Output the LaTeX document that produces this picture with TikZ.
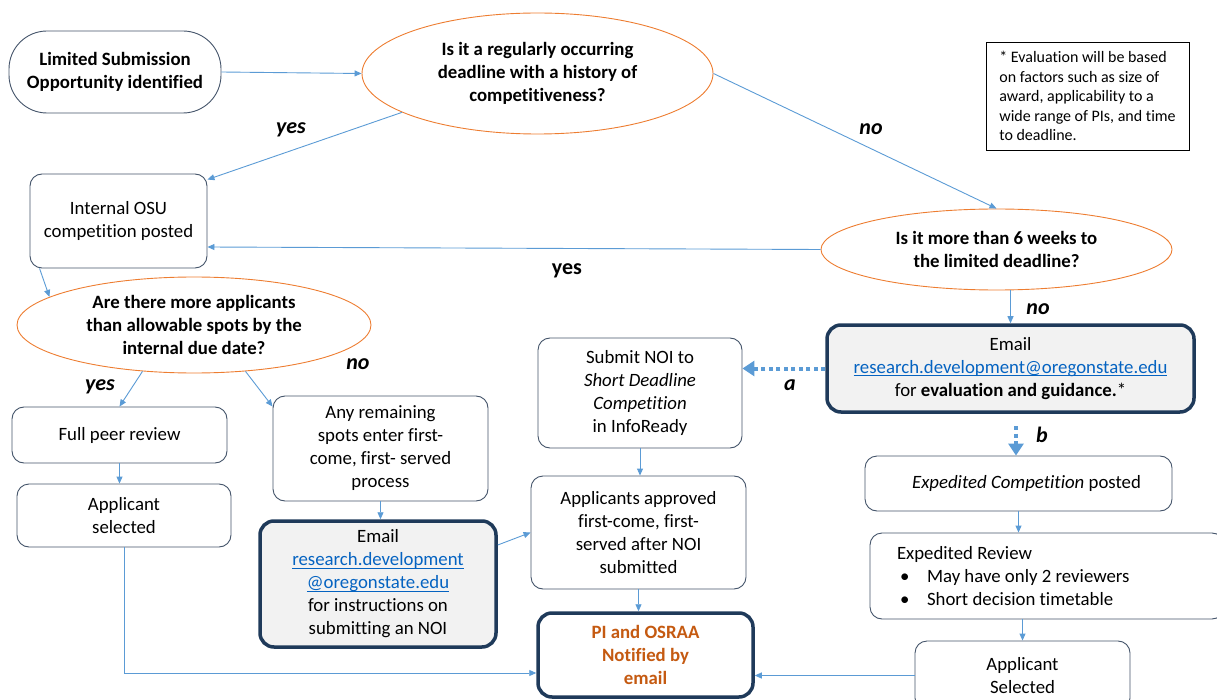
\documentclass[tikz,border=0pt]{standalone}
\usepackage{fontspec}
\setmainfont{Carlito}[Ligatures=NoCommon]
\usetikzlibrary{shapes.geometric,arrows.meta}
\definecolor{lineblue}{HTML}{5B9BD5}
\definecolor{orng}{HTML}{ED7D31}
\definecolor{boxc}{HTML}{44546A}
\definecolor{navy}{HTML}{1F3A5A}
\definecolor{grayf}{HTML}{F2F2F2}
\definecolor{linkc}{HTML}{0563C1}
\definecolor{pitext}{HTML}{C55A11}
\newcommand{\lnk}[1]{\setbox0\hbox{\textcolor{linkc}{#1}}\rlap{\textcolor{linkc}{\raisebox{-2.6pt}{\rule{\wd0}{1pt}}}}\box0}
\begin{document}
\begin{tikzpicture}[x=1pt,y=-1pt,
  every node/.style={font=\fontsize{18.8}{23}\selectfont, align=center, inner sep=0pt},
  bf/.style={font=\fontsize{18.8}{23}\selectfont\bfseries},
  box/.style={draw=boxc, line width=0.9pt, rounded corners=12pt, fill=white},
  heavybox/.style={draw=navy, line width=3.5pt, rounded corners=14pt, fill=grayf},
  dec/.style={ellipse, draw=orng, line width=0.9pt},
  lbl/.style={font=\fontsize{22}{26}\selectfont\bfseries\itshape},
  conn/.style={draw=lineblue, line width=0.9pt, -{Triangle[length=7pt,width=6pt]}},
  dotconn/.style={draw=lineblue, line width=4pt, dash pattern=on 4pt off 3.5pt, -{Triangle[length=12pt,width=15pt]}}]
\useasboundingbox (0,0) rectangle (1217,700);

% nodes
\node[box, bf, rounded corners=38pt, minimum width=212pt, minimum height=82pt] (start) at (115,72) {Limited Submission\\Opportunity identified};
\node[dec, minimum width=351pt, minimum height=121pt] (q1) at (537.5,73.5) {};
\node[bf] (q1t) at (q1.center) {Is it a regularly occurring\\deadline with a history of\\competitiveness?};
\node[draw=black, line width=0.9pt, minimum width=203pt, minimum height=108pt, align=flush left, font=\fontsize{16}{19.5}\selectfont] (note) at (1087.5,96) {* Evaluation will be based\\on factors such as size of\\award, applicability to a\\wide range of PIs, and time\\to deadline.};
\node[box, minimum width=177pt, minimum height=94pt] (internal) at (118.5,221) {Internal OSU\\competition posted};
\node[dec, minimum width=351pt, minimum height=81pt] (q2) at (996.5,249.5) {};
\node[bf] (q2t) at (q2.center) {Is it more than 6 weeks to\\the limited deadline?};
\node[dec, minimum width=354pt, minimum height=96pt] (q3) at (194,325) {};
\node[bf] (q3t) at (q3.center) {Are there more applicants\\than allowable spots by the\\internal due date?};
\node[heavybox, minimum width=367pt, minimum height=87pt] (email1) at (1010.5,368.5) {Email\\\lnk{research.development@oregonstate.edu}\\for \textbf{evaluation and guidance.}*};
\node[box, minimum width=204pt, minimum height=110pt] (noi) at (640,393) {Submit NOI to\\\textit{Short Deadline}\\\textit{Competition}\\in InfoReady};
\node[box, minimum width=215pt, minimum height=56pt] (fullpeer) at (119.5,435) {Full peer review};
\node[box, minimum width=215pt, minimum height=105pt] (remaining) at (380.5,448.5) {Any remaining\\spots enter first-\\come, first- served\\process};
\node[box, minimum width=307pt, minimum height=55pt] (expcomp) at (1018.5,483.5) {\hspace*{16pt}\textit{Expedited Competition} posted};
\node[box, minimum width=214pt, minimum height=63pt] (appsel1) at (124,515.5) {Applicant\\selected};
\node[heavybox, minimum width=236pt, minimum height=126pt] (email2) at (378,584) {Email\\\lnk{research.development}\\\lnk{@oregonstate.edu}\\for instructions on\\submitting an NOI};
\node[box, minimum width=215pt, minimum height=113pt] (approved) at (638.5,532.5) {Applicants approved\\first-come, first-\\served after NOI\\submitted};
\node[box, minimum width=354pt, minimum height=86pt, text width=300pt, inner xsep=27pt, align=flush left] (expreview) at (1047,576) {Expedited Review\\\makebox[30pt][l]{\hspace{3pt}\textbullet}May have only 2 reviewers\\\makebox[30pt][l]{\hspace{3pt}\textbullet}Short decision timetable};
\node[box, minimum width=215pt, minimum height=69pt] (appsel2) at (1022.5,675.5) {Applicant\\Selected};
\node[heavybox, fill=white, minimum width=215pt, minimum height=84pt, font=\fontsize{18.8}{23}\selectfont\bfseries, text=pitext] (pi) at (645.5,655) {PI and OSRAA\\Notified by\\email};

% labels
\node[lbl] (lyes1) at (291,130) {yes};
\node[lbl] (lno1) at (871,129) {no};
\node[font=\fontsize{22}{26}\selectfont\bfseries] (lyes2) at (567,271) {yes};
\node[lbl] (lyes3) at (100,387) {yes};
\node[lbl] (lno2) at (358,364) {no};
\node[lbl] (lno3) at (1038,309) {no};
\node[lbl] (la) at (790,385) {a};
\node[lbl] (lb) at (1042,435) {b};

\coordinate (bstart) at (1016,426);

% connectors
\draw[conn] (start.east) -- (q1.west);
\draw[conn] (q1.196) -- ([yshift=-6pt]internal.north east);
\draw[conn] (q1.east) -- (q2.north);
\draw[conn] (q2.west) -- ([yshift=-26pt]internal.east);
\draw[conn] ([xshift=10pt]internal.south west) -- (q3.169);
\draw[conn] (q3.222) -- (fullpeer.north);
\draw[conn] (q3.318) -- ([yshift=-11pt]remaining.north west);
\draw[conn] (fullpeer.south) -- (fullpeer.south |- appsel1.north);
\draw[conn] (remaining.south) -- (remaining.south |- email2.north);
\draw[conn] ([yshift=39pt]email2.east) -- (approved.west);
\draw[conn] (noi.south) -- (noi.south |- approved.north);
\draw[conn] (approved.south) -- (approved.south |- pi.north);
\draw[conn] (appsel1.south) |- ([yshift=-18pt]pi.west);
\draw[conn] (appsel2.west) -- (appsel2.west -| pi.east);
\draw[conn] (email1.north |- q2.south) -- (email1.north);
\draw[dotconn] (email1.west) -- (email1.west -| noi.east);
\draw[dotconn] (bstart) -- (bstart |- expcomp.north);
\draw[conn] (expcomp.south) -- (expcomp.south |- expreview.north);
\draw[conn] (appsel2.north |- expreview.south) -- (appsel2.north);
\end{tikzpicture}
\end{document}
